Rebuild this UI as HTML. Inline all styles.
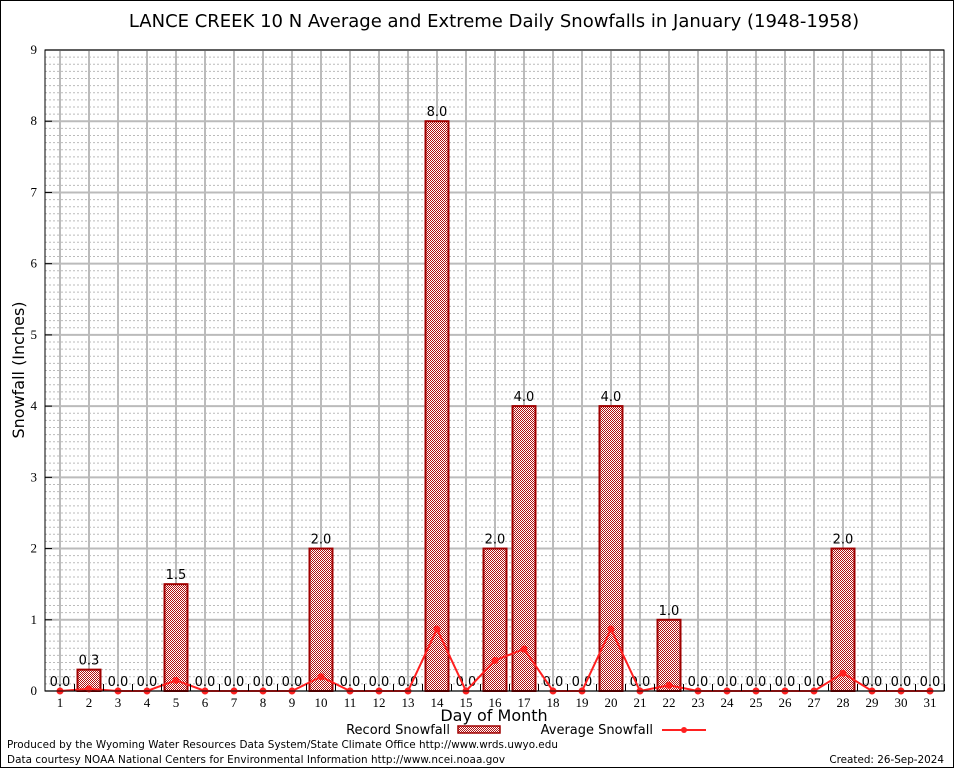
<!DOCTYPE html>
<html><head><meta charset="utf-8"><style>
body{margin:0;background:#fff}
svg text{font-family:"DejaVu Sans","Liberation Sans",sans-serif}
svg text.serif{font-family:"Liberation Serif",serif}
</style></head><body>
<svg id="c" width="954" height="768" viewBox="0 0 954 768">
<defs>
<pattern id="hatch" width="2" height="2" patternUnits="userSpaceOnUse">
<rect width="2" height="2" fill="#fff"/>
<rect width="1" height="1" fill="#b01010"/><rect x="1" y="1" width="1" height="1" fill="#b01010"/>
</pattern>
</defs>
<rect x="0.5" y="0.5" width="953" height="767" fill="#fff" stroke="#000"/>
<text x="494" y="27" font-size="18" text-anchor="middle">LANCE CREEK 10 N Average and Extreme Daily Snowfalls in January (1948-1958)</text>
<g id="grid"></g>
<g id="bars"></g>
<g id="line"></g>
<rect x="45" y="50" width="899" height="641" fill="none" stroke="#000"/>
<g id="axes"></g>
<text x="24" y="370" font-size="16" text-anchor="middle" transform="rotate(-90 24 370)">Snowfall (Inches)</text>
<text x="494" y="721" font-size="16" text-anchor="middle">Day of Month</text>
<g>
<text x="450" y="734" font-size="13" text-anchor="end">Record Snowfall</text>
<rect x="458" y="726" width="42" height="7" fill="url(#hatch)" stroke="#a00000" stroke-width="1.5"/>
</g>
<g>
<text x="653" y="734" font-size="13" text-anchor="end">Average Snowfall</text>
<line x1="662" y1="730" x2="706" y2="730" stroke="#ff2020" stroke-width="2"/>
<circle cx="684" cy="730" r="3" fill="#ff2020"/>
</g>
<text x="7" y="748" font-size="10.4" textLength="551">Produced by the Wyoming Water Resources Data System/State Climate Office http://www.wrds.uwyo.edu</text>
<text x="7" y="763" font-size="10.4" textLength="498">Data courtesy NOAA National Centers for Environmental Information http://www.ncei.noaa.gov</text>
<text x="944" y="763" font-size="10.4" text-anchor="end">Created:  26-Sep-2024</text>
</svg>
<script>
const days=[1,2,3,4,5,6,7,8,9,10,11,12,13,14,15,16,17,18,19,20,21,22,23,24,25,26,27,28,29,30,31];
const recordSnow=[0,0.3,0,0,1.5,0,0,0,0,2,0,0,0,8,0,2,4,0,0,4,0,1,0,0,0,0,0,2,0,0,0];
const avgSnow=[0,0.03,0,0,0.15,0,0,0,0,0.2,0,0,0,0.87,0,0.43,0.59,0,0,0.87,0,0.08,0,0,0,0,0,0.25,0,0,0];
const yTicks=[0,1,2,3,4,5,6,7,8,9];
const NS="http://www.w3.org/2000/svg";
const X=d=>60+(d-1)*29, Y=v=>691-v*(641/9);
function mk(t,a,p){const e=document.createElementNS(NS,t);for(const k in a)e.setAttribute(k,a[k]);p.appendChild(e);return e;}
const g=document.getElementById('grid'),b=document.getElementById('bars'),l=document.getElementById('line'),ax=document.getElementById('axes');
for(let v=0.1;v<9;v+=0.1){if(Math.abs(v-Math.round(v))<0.01)continue;
 const e=mk('line',{x1:45,x2:944,y1:Y(v),y2:Y(v),stroke:'#bbb','stroke-width':1,'stroke-dasharray':'2,2'},g);
 
 }
yTicks.forEach(v=>{const e=mk('line',{x1:45,x2:944,y1:Y(v),y2:Y(v),stroke:'#bbb','stroke-width':2},g);
 
 
 const t=mk('text',{x:37,y:Y(v)+4,'font-size':13,'text-anchor':'end','class':'serif'},ax);t.textContent=v;
 
 
 mk('line',{x1:45,x2:52,y1:Y(v),y2:Y(v),stroke:'#000'},ax);});
days.forEach(d=>{const e=mk('line',{x1:X(d),x2:X(d),y1:50,y2:691,stroke:'#bbb','stroke-width':2},g);
 
 
 const t=mk('text',{x:X(d),y:707,'font-size':13,'text-anchor':'middle','class':'serif'},ax);t.textContent=d;
 
 
 mk('line',{x1:X(d)+14.5,x2:X(d)+14.5,y1:691,y2:684,stroke:'#000'},ax);});
days.forEach((d,i)=>{const v=recordSnow[i];
 if(v>0){const r=mk('rect',{x:X(d)-11.5,y:Y(v),width:23,height:691-Y(v),fill:'url(#hatch)',stroke:'#a00000','stroke-width':2},b);
 
 }
 const t=mk('text',{x:X(d),y:Y(v)-5,'font-size':13,'text-anchor':'middle'},b);t.textContent=v.toFixed(1);
 
 });
const pl=mk('polyline',{points:days.map((d,i)=>X(d)+','+Y(avgSnow[i])).join(' '),fill:'none',stroke:'#ff2020','stroke-width':2},l);


days.forEach((d,i)=>{const c=mk('circle',{cx:X(d),cy:Y(avgSnow[i]),r:3.5,fill:'#ff2020'},l);
 
 });
</script>
</body></html>
